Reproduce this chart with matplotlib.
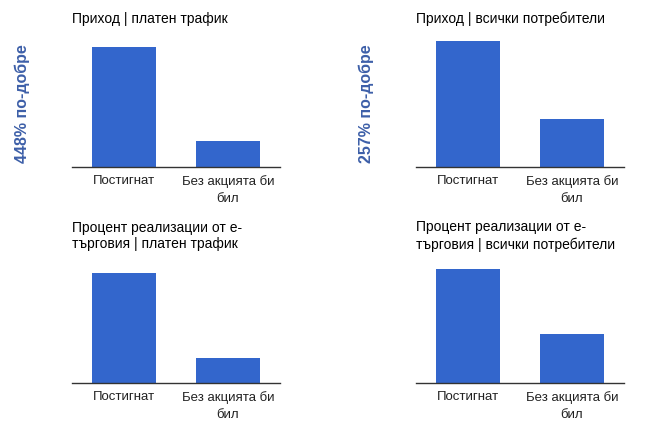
import matplotlib.pyplot as plt

plt.rcParams['font.family'] = ['Liberation Sans', 'DejaVu Sans']

W, H = 653, 437

categories = ['Постигнат', 'Без акцията би\nбил']
titles = ['Приход | платен трафик',
          'Приход | всички потребители',
          'Процент реализации от е-\nтърговия | платен трафик',
          'Процент реализации от е-\nтърговия | всички потребители']
values = [[120, 26],
          [126, 48],
          [110, 25],
          [114, 49]]
side_labels = ['448% по-добре', '257% по-добре', '', '']

# axes placement in pixels: left, baseline y (from top), title center y
panels = [(72, 167, 19), (416, 167, 19), (72, 383, 236), (416, 383, 236)]
side_x = [22, 366, 22, 366]

fig = plt.figure(figsize=(W / 100, H / 100), dpi=100)

for i, (left, base, ty) in enumerate(panels):
    ax = fig.add_axes([left / W, (H - base) / H, 208 / W, 132 / H])
    ax.bar([0, 1], values[i], width=0.615, color='#3366cc')
    ax.set_xlim(-0.5, 1.5)
    ax.set_ylim(0, 132)
    for s in ['top', 'right', 'left']:
        ax.spines[s].set_visible(False)
    ax.spines['bottom'].set_color('#333333')
    ax.spines['bottom'].set_linewidth(1)
    ax.set_yticks([])
    ax.set_xticks([0, 1])
    ax.set_xticklabels(categories, fontsize=9.5, color='#222222', linespacing=1.5)
    ax.tick_params(axis='x', length=0, pad=6)
    fig.text(left / W, 1 - ty / H, titles[i], fontsize=10, color='#000000',
             ha='left', va='center', linespacing=1.25)
    if side_labels[i]:
        fig.text(side_x[i] / W, 1 - 104 / H, side_labels[i], rotation=90,
                 fontsize=11.5, fontweight='bold', color='#3d5fa8',
                 ha='center', va='center')

fig.savefig('out.png', dpi=100)
